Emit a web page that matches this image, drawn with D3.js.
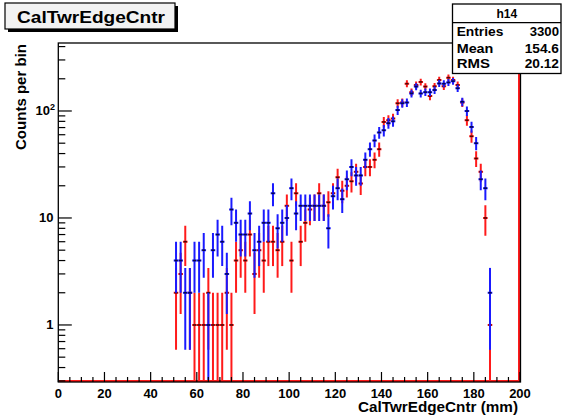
<!DOCTYPE html>
<html><head><meta charset="utf-8">
<script src="https://cdn.jsdelivr.net/npm/d3@7"></script>
<style>
body{margin:0;background:#fff}
svg{display:block}
text{font-family:"Liberation Sans",Arial,sans-serif;font-weight:bold;fill:#000}
</style>
</head><body>
<svg id="c" width="564" height="418"></svg>
<script>
// ---------------- data ----------------
const binStart = 50;     // lower edge (mm) of first listed bin
const binWidth = 2;      // mm
const blueCounts = [4,4,2,2,4,4,5,1,5,7,6,3,12,9,7,7,11,5,6,9,9,17,8,9,10,19,11,13,13,13,13,13,13,8,16,19,15,23,30,25,25,35,44,53,63,66,77,80,102,118,120,146,169,146,150,150,157,181,180,185,190,163,122,100,71,50,23,19,2];
const redCounts  = [2,3,6,2,1,1,1,2,1,1,1,2,1,4,5,4,7,3,5,4,6,6,5,6,13,4,17,6,9,12,13,17,13,14,17,24,18,20,22,27,21,30,30,35,44,79,82,85,118,120,180,150,175,187,169,138,170,195,170,205,195,175,120,82,58,36,27,10,1];
const xTickValues = [0,20,40,60,80,100,120,140,160,180,200];
const yMajorValues = [1,10,100];
const yMajorLabels = [["1",""],["10",""],["10","2"]];
const titleText = "CalTwrEdgeCntr";
const statsName = "h14";
const statsKeys = ["Entries","Mean","RMS"];
const statsVals = ["3300","154.6","20.12"];
const xTitle = "CalTwrEdgeCntr (mm)";
const yTitle = "Counts per bin";

// ---------------- layout ----------------
const fx0 = 58.3, fx1 = 520.5, fy0 = 43, fy1 = 382;
const svg = d3.select("#c");
svg.append("rect").attr("width",564).attr("height",418).attr("fill","#fff");

const x = d3.scaleLinear().domain([0,200]).range([58.3,520]);
const y = d3.scaleLog().domain([0.293,432]).range([fy1,fy0]);
const yMin = y.domain()[0], yMax = y.domain()[1];

const plot = svg.append("g");
plot.append("clipPath").attr("id","clip").append("rect")
  .attr("x",fx0).attr("y",fy0).attr("width",fx1-fx0).attr("height",fy1-fy0);

function drawSeries(counts,color){
  const g = plot.append("g").attr("clip-path","url(#clip)");
  counts.forEach((n,i)=>{
    if(n<=0) return;
    const lo = binStart + i*binWidth, hi = lo + binWidth, c = lo + binWidth/2;
    const e = Math.sqrt(n);
    const yl = (n-e) > yMin ? y(n-e) : fy1;
    const yh = y(Math.min(n+e,yMax));
    g.append("line").attr("x1",x(c)).attr("x2",x(c)).attr("y1",yl).attr("y2",yh)
      .attr("stroke",color).attr("stroke-width",2);
    g.append("line").attr("x1",x(lo)).attr("x2",x(hi)).attr("y1",y(n)).attr("y2",y(n))
      .attr("stroke",color).attr("stroke-width",2);
    g.append("line").attr("x1",x(c)-1.6).attr("x2",x(c)+1.6).attr("y1",y(n)).attr("y2",y(n))
      .attr("stroke","#000").attr("stroke-width",1.6).attr("opacity",0.7);
  });
}
drawSeries(redCounts,"#ff1a1a");
drawSeries(blueCounts,"#1a1aff");

// red histogram edge lines (empty-bin baseline and last-bin line)
plot.append("line").attr("x1",fx0).attr("x2",fx1).attr("y1",fy1-1).attr("y2",fy1-1)
  .attr("stroke","#ff1a1a").attr("stroke-width",2);
plot.append("line").attr("x1",fx1-1.5).attr("x2",fx1-1.5).attr("y1",fy0).attr("y2",fy1)
  .attr("stroke","#ff1a1a").attr("stroke-width",2);

// frame
svg.append("rect").attr("x",fx0).attr("y",fy0).attr("width",fx1-fx0).attr("height",fy1-fy0)
  .attr("fill","none").attr("stroke","#000").attr("stroke-width",1.3);

// x axis ticks
const xAxisG = svg.append("g");
d3.range(0,201,5).forEach(v=>{
  const major = v%20===0;
  xAxisG.append("line").attr("x1",x(v)).attr("x2",x(v)).attr("y1",fy1).attr("y2",fy1-(major?10:5))
    .attr("stroke","#000").attr("stroke-width",1.2);
});
xAxisG.selectAll("text.xt").data(xTickValues).enter().append("text")
  .attr("x",d=>x(d)).attr("y",397.5).attr("text-anchor","middle").attr("font-size",13).text(d=>d);

// y axis ticks
const yAxisG = svg.append("g");
const yMinor = [];
[0.1,1,10,100].forEach(d=>{ for(let m=2;m<=9;m++){ const v=m*d; if(v>=yMin && v<=yMax) yMinor.push(v);} });
yMinor.forEach(v=>{
  yAxisG.append("line").attr("x1",fx0).attr("x2",fx0+7).attr("y1",y(v)).attr("y2",y(v))
    .attr("stroke","#000").attr("stroke-width",1.2);
});
yMajorValues.forEach((v,i)=>{
  yAxisG.append("line").attr("x1",fx0).attr("x2",fx0+13.5).attr("y1",y(v)).attr("y2",y(v))
    .attr("stroke","#000").attr("stroke-width",1.2);
  const lab = yMajorLabels[i];
  const t = yAxisG.append("text").attr("x",lab[1]?50:53.5).attr("y",y(v)+4.5)
    .attr("text-anchor","end").attr("font-size",13).text(lab[0]);
  if(lab[1]){
    yAxisG.append("text").attr("x",50).attr("y",y(v)-1).attr("font-size",9).text(lab[1]);
  }
});

// axis titles
svg.append("text").attr("x",518).attr("y",412).attr("text-anchor","end").attr("font-size",14)
  .attr("textLength",160).attr("lengthAdjust","spacingAndGlyphs").text(xTitle);
svg.append("text").attr("transform","translate(25.5,44) rotate(-90)").attr("text-anchor","end")
  .attr("font-size",14).attr("textLength",106).attr("lengthAdjust","spacingAndGlyphs").text(yTitle);

// title box
svg.append("rect").attr("x",8).attr("y",6).attr("width",170).attr("height",26).attr("fill","#000");
svg.append("rect").attr("x",5).attr("y",3).attr("width",170).attr("height",26)
  .attr("fill","#f2f2f2").attr("stroke","#000").attr("stroke-width",1.2);
svg.append("text").attr("x",17).attr("y",23.3).attr("font-size",16.5)
  .attr("textLength",148).attr("lengthAdjust","spacingAndGlyphs").text(titleText);

// stats box
const sx0 = 452.5, sx1 = 561, sy0 = 4, sy1 = 73.5;
svg.append("rect").attr("x",sx0).attr("y",sy0).attr("width",sx1-sx0).attr("height",sy1-sy0)
  .attr("fill","#fff").attr("stroke","#000").attr("stroke-width",1.3);
svg.append("line").attr("x1",sx0).attr("x2",sx1).attr("y1",22.7).attr("y2",22.7)
  .attr("stroke","#000").attr("stroke-width",1.2);
svg.append("text").attr("x",(sx0+sx1)/2).attr("y",18.3).attr("text-anchor","middle")
  .attr("font-size",12).text(statsName);
const rowY = [36,52.5,67.5];
const keyW = [46.7,36.7,33.3], valW = [29.3,34.3,34.3];
statsKeys.forEach((k,i)=>{
  svg.append("text").attr("x",456.7).attr("y",rowY[i]).attr("font-size",12)
    .attr("textLength",keyW[i]).attr("lengthAdjust","spacingAndGlyphs").text(k);
  svg.append("text").attr("x",559).attr("y",rowY[i]).attr("text-anchor","end").attr("font-size",12)
    .attr("textLength",valW[i]).attr("lengthAdjust","spacingAndGlyphs").text(statsVals[i]);
});
</script>
</body></html>
